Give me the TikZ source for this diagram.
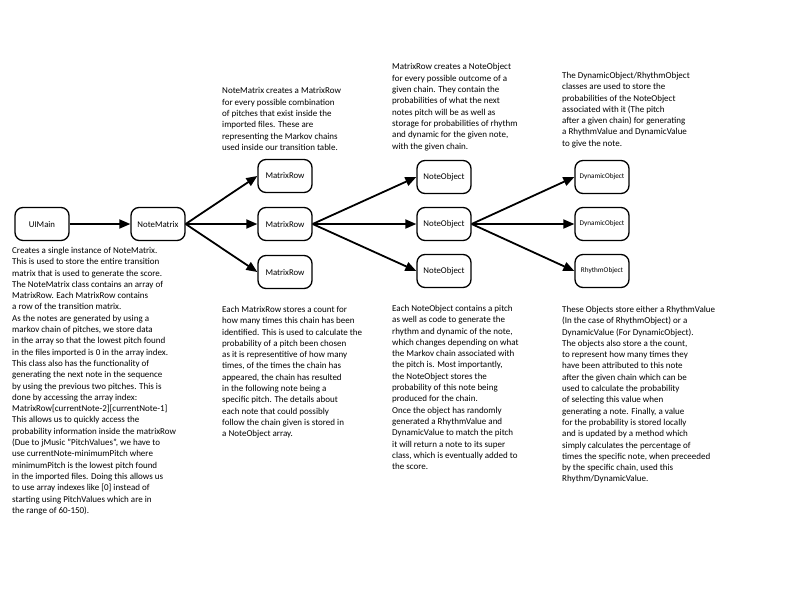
\documentclass[tikz,border=0pt]{standalone}
\usepackage{fontspec}
\setmainfont{Carlito}
\usetikzlibrary{arrows.meta,positioning}
\tikzset{
  classbox/.style={draw, line width=1.3pt, rounded corners=8pt,
    minimum width=54pt, minimum height=33pt, inner sep=1pt,
    font=\fontsize{8.8}{10}\selectfont},
  smallbox/.style={classbox, font=\fontsize{7.2}{8}\selectfont},
  notetext/.style={anchor=north west, align=left, inner sep=0pt,
    font=\fontsize{9}{11.3}\selectfont},
  link/.style={line width=1.8pt, -{Triangle[length=11pt,width=9pt]}}
}

\begin{document}
\begin{tikzpicture}[x=1pt,y=-1pt]
                \useasboundingbox (0,0) rectangle (800,600);

                % Classes
                \node[classbox] (uimain) at (42,224) {UIMain};
                \node[classbox] (matrix) at (158,224) {NoteMatrix};
                \foreach \i/\y in {1/176, 2/224, 3/272}
                    \node[classbox] (row\i) at (285,\y) {MatrixRow};
                \foreach \i/\y in {1/177, 2/224, 3/271}
                    \node[classbox] (noteobj\i) at (444,\y) {NoteObject};
                \node[smallbox] (dyn1) at (602,177) {DynamicObject};
                \node[smallbox] (dyn2) at (602,224) {DynamicObject};
                \node[smallbox] (rhythm) at (602,271) {RhythmObject};

                % Links
                \draw[link] (uimain) -- (matrix);
                \foreach \i in {1,2,3}
                    \draw[link] (matrix.east) -- (row\i.west);
                \foreach \i in {1,2,3}
                    \draw[link] (row2.east) -- (noteobj\i.west);
                \foreach \n in {dyn1, dyn2, rhythm}
                    \draw[link] (noteobj2.east) -- (\n.west);

                % Descriptions above
                \node[notetext] (matrixtext) at (222,87.5) {NoteMatrix creates a MatrixRow\\
                    for every possible combination\\
                    of pitches that exist inside the\\
                    imported files. These are\\
                    representing the Markov chains\\
                    used inside our transition table.};
                \node[notetext] (rowtext) at (392,63.5) {MatrixRow creates a NoteObject\\
                    for every possible outcome of a\\
                    given chain. They contain the\\
                    probabilities of what the next\\
                    notes pitch will be as well as\\
                    storage for probabilities of rhythm\\
                    and dynamic for the given note,\\
                    with the given chain.};
                \node[notetext] (dyntext) at (562,72) {The DynamicObject/RhythmObject\\
                    classes are used to store the\\
                    probabilities of the NoteObject\\
                    associated with it (The pitch\\
                    after a given chain) for generating\\
                    a RhythmValue and DynamicValue\\
                    to give the note.};

                % Descriptions below
                \node[notetext] (maintext) at (12,247) {Creates a single instance of NoteMatrix.\\
                    This is used to store the entire transition\\
                    matrix that is used to generate the score.\\
                    The NoteMatrix class contains an array of\\
                    MatrixRow. Each MatrixRow contains\\
                    a row of the transition matrix.\\
                    As the notes are generated by using a\\
                    markov chain of pitches, we store data\\
                    in the array so that the lowest pitch found\\
                    in the files imported is 0 in the array index.\\
                    This class also has the functionality of\\
                    generating the next note in the sequence\\
                    by using the previous two pitches. This is\\
                    done by accessing the array index:\\
                    MatrixRow[currentNote-2][currentNote-1]\\
                    This allows us to quickly access the\\
                    probability information inside the matrixRow\\
                    (Due to jMusic "PitchValues", we have to\\
                    use currentNote-minimumPitch where\\
                    minimumPitch is the lowest pitch found\\
                    in the imported files. Doing this allows us\\
                    to use array indexes like [0] instead of\\
                    starting using PitchValues which are in\\
                    the range of 60-150).};
                \node[notetext] (counttext) at (222,306) {Each MatrixRow stores a count for\\
                    how many times this chain has been\\
                    identified. This is used to calculate the\\
                    probability of a pitch been chosen\\
                    as it is representitive of how many\\
                    times, of the times the chain has\\
                    appeared, the chain has resulted\\
                    in the following note being a\\
                    specific pitch. The details about\\
                    each note that could possibly\\
                    follow the chain given is stored in\\
                    a NoteObject array.};
                \node[notetext] (pitchtext) at (392,305) {Each NoteObject contains a pitch\\
                    as well as code to generate the\\
                    rhythm and dynamic of the note,\\
                    which changes depending on what\\
                    the Markov chain associated with\\
                    the pitch is. Most importantly,\\
                    the NoteObject stores the\\
                    probability of this note being\\
                    produced for the chain.\\
                    Once the object has randomly\\
                    generated a RhythmValue and\\
                    DynamicValue to match the pitch\\
                    it will return a note to its super\\
                    class, which is eventually added to\\
                    the score.};
                \node[notetext] (valuetext) at (562,306) {These Objects store either a RhythmValue\\
                    (In the case of RhythmObject) or a\\
                    DynamicValue (For DynamicObject).\\
                    The objects also store a the count,\\
                    to represent how many times they\\
                    have been attributed to this note\\
                    after the given chain which can be\\
                    used to calculate the probability\\
                    of selecting this value when\\
                    generating a note. Finally, a value\\
                    for the probability is stored locally\\
                    and is updated by a method which\\
                    simply calculates the percentage of\\
                    times the specific note, when preceeded\\
                    by the specific chain, used this\\
                    Rhythm/DynamicValue.};
\end{tikzpicture}
\end{document}
